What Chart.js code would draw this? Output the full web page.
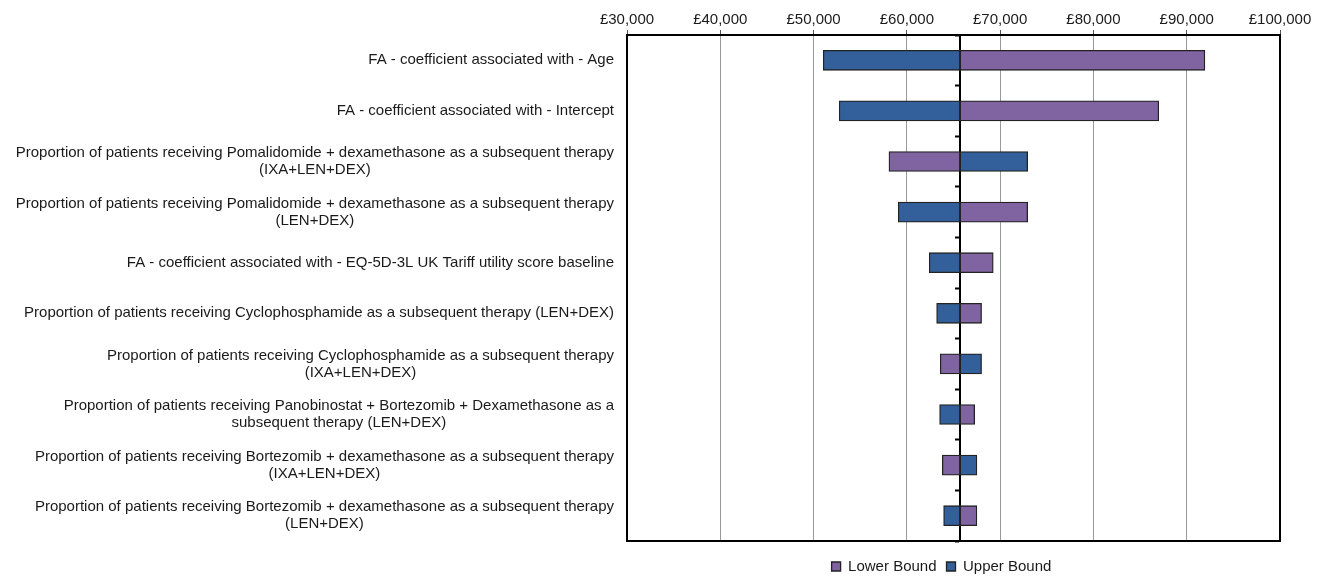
<!DOCTYPE html>
<html>
<head>
<meta charset="utf-8">
<script src="https://cdn.jsdelivr.net/npm/chart.js@4"></script>
<style>
  html, body { margin: 0; padding: 0; background: #fff; }
  #wrap { width: 1331px; height: 576px; position: relative; }
</style>
</head>
<body>
<div id="wrap"><canvas id="c" width="1331" height="576"></canvas></div>
<script>
const categories = [
  ["FA - coefficient associated with - Age"],
  ["FA - coefficient associated with - Intercept"],
  ["Proportion of patients receiving Pomalidomide + dexamethasone as a subsequent therapy", "(IXA+LEN+DEX)"],
  ["Proportion of patients receiving Pomalidomide + dexamethasone as a subsequent therapy", "(LEN+DEX)"],
  ["FA - coefficient associated with - EQ-5D-3L UK Tariff utility score baseline"],
  ["Proportion of patients receiving Cyclophosphamide as a subsequent therapy (LEN+DEX)"],
  ["Proportion of patients receiving Cyclophosphamide as a subsequent therapy", "(IXA+LEN+DEX)"],
  ["Proportion of patients receiving Panobinostat + Bortezomib + Dexamethasone as a", "subsequent therapy (LEN+DEX)"],
  ["Proportion of patients receiving Bortezomib + dexamethasone as a subsequent therapy", "(IXA+LEN+DEX)"],
  ["Proportion of patients receiving Bortezomib + dexamethasone as a subsequent therapy", "(LEN+DEX)"]
];
const baseValue = 65700;
const lowerBound = [91950, 87000, 58080, 72950, 69260, 68010, 63580, 67270, 63800, 67510];
const upperBound = [51040, 52750, 72950, 59080, 62400, 63190, 68010, 63510, 67510, 63940];
const xTicks = [30000, 40000, 50000, 60000, 70000, 80000, 90000, 100000];
const seriesNames = ["Lower Bound", "Upper Bound"];

const FONT = "'Liberation Sans', Arial, sans-serif";
const PURPLE = '#8064A2';
const BLUE = '#33609A';

const frameAndLabels = {
  id: 'frameAndLabels',
  afterLayout(chart) {
    const lg = chart.legend;
    if (lg) { lg.top += 8; lg.bottom += 8; lg.left -= 12; lg.right -= 12; }
  },
  afterDraw(chart) {
    const ctx = chart.ctx;
    const a = chart.chartArea;
    ctx.save();
    ctx.strokeStyle = '#000';
    ctx.lineWidth = 2;
    ctx.strokeRect(a.left, a.top, a.right - a.left, a.bottom - a.top);
    // category labels
    const ys = chart.scales.y;
    ctx.font = '15px ' + FONT;
    ctx.fillStyle = '#1a1a1a';
    ctx.textBaseline = 'middle';
    ctx.textAlign = 'center';
    const rightEdge = a.left - 13;
    const lh = 17;
    categories.forEach((lines, i) => {
      const yc = ys.getPixelForValue(i);
      const maxW = Math.max(...lines.map(l => ctx.measureText(l).width));
      const cx = rightEdge - maxW / 2;
      const y0 = yc - (lines.length - 1) * lh / 2;
      lines.forEach((l, k) => ctx.fillText(l, cx, y0 + k * lh));
    });
    ctx.restore();
  }
};

new Chart(document.getElementById('c'), {
  type: 'bar',
  data: {
    labels: categories.map(c => c.join(' ')),
    datasets: [
      {
        label: seriesNames[0],
        data: lowerBound.map(v => [baseValue, v]),
        backgroundColor: PURPLE,
        borderColor: '#222',
        borderWidth: 1.3,
        borderSkipped: false,
        grouped: false,
        barThickness: 20,
        yAxisID: 'y'
      },
      {
        label: seriesNames[1],
        data: upperBound.map(v => [baseValue, v]),
        backgroundColor: BLUE,
        borderColor: '#222',
        borderWidth: 1.3,
        borderSkipped: false,
        grouped: false,
        barThickness: 20,
        yAxisID: 'y'
      }
    ]
  },
  options: {
    indexAxis: 'y',
    responsive: false,
    animation: false,
    layout: { padding: { left: 0, right: 51, top: 0, bottom: 0 } },
    scales: {
      x: {
        position: 'top',
        min: xTicks[0],
        max: xTicks[xTicks.length - 1],
        afterBuildTicks(scale) { scale.ticks = xTicks.map(v => ({ value: v })); },
        afterFit(scale) { scale.height = 35; },
        ticks: {
          font: { family: FONT, size: 15 },
          color: '#1a1a1a',
          padding: 1,
          maxRotation: 0,
          callback: v => '£' + Number(v).toLocaleString('en-GB')
        },
        grid: { color: '#9a9a9a', lineWidth: 1, tickLength: 5, tickColor: '#555' },
        border: { display: false }
      },
      y: {
        type: 'category',
        position: 'left',
        offset: true,
        afterFit(scale) { scale.width = 627; },
        ticks: { display: false },
        grid: { display: false },
        border: { display: false }
      },
      y2: {
        type: 'category',
        position: { x: baseValue },
        offset: true,
        ticks: { display: false },
        grid: { offset: true, drawOnChartArea: false, tickLength: 4, tickWidth: 2, tickColor: '#000' },
        border: { display: true, color: '#000', width: 2 }
      }
    },
    plugins: {
      legend: {
        position: 'bottom',
        fullSize: false,
        labels: {
          font: { family: FONT, size: 15 },
          color: '#1a1a1a',
          boxWidth: 9,
          boxHeight: 9,
          padding: 10
        }
      },
      tooltip: { enabled: false }
    }
  },
  plugins: [frameAndLabels]
});
</script>
</body>
</html>
